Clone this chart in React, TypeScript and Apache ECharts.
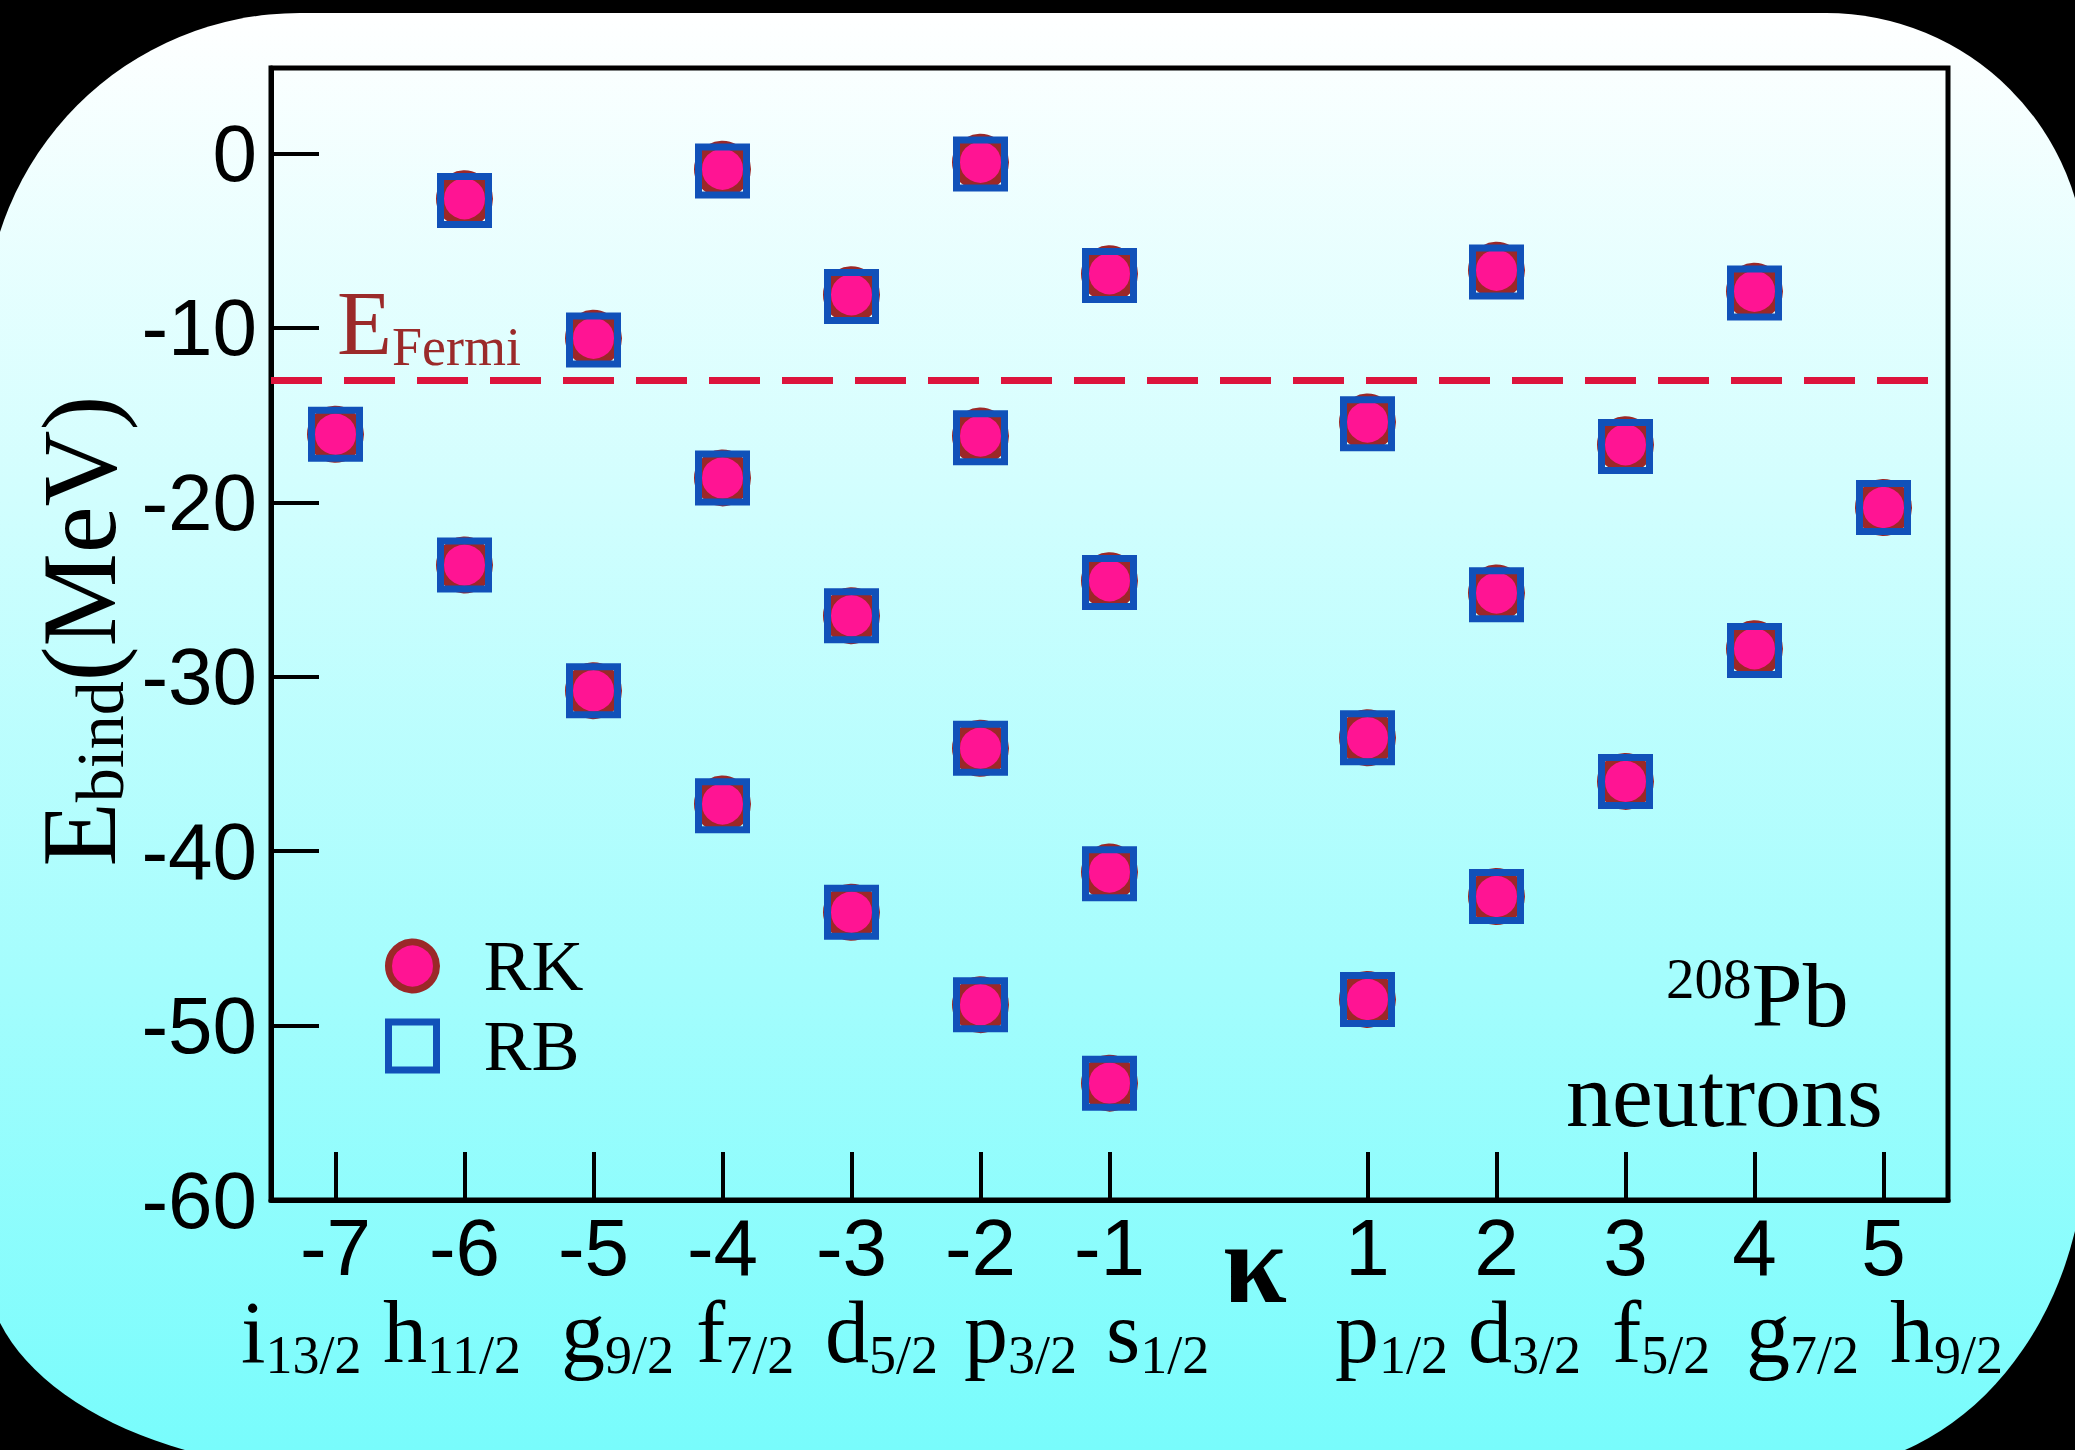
import React, { useEffect, useRef } from 'react';
import * as echarts from 'echarts';

// κ quantum numbers of the neutron single-particle states in 208Pb
const KAPPA = [-7, -6, -5, -4, -3, -2, -1, 1, 2, 3, 4, 5];
// spectroscopic notation written under each κ
const ORBITAL_L = ['i', 'h', 'g', 'f', 'd', 'p', 's', 'p', 'd', 'f', 'g', 'h'];
const ORBITAL_J = ['13/2', '11/2', '9/2', '7/2', '5/2', '3/2', '1/2', '1/2', '3/2', '5/2', '7/2', '9/2'];

// binding energies (MeV) of the bound levels for each κ, RK calculation
const RK_LEVELS: number[][] = [
  [-16.1],
  [-2.6, -23.6],
  [-10.6, -30.8],
  [-0.9, -18.6, -37.3],
  [-8.1, -26.5, -43.5],
  [-0.5, -16.2, -34.1, -48.8],
  [-6.9, -24.5, -41.2, -53.3],
  [-15.4, -33.5, -48.5],
  [-6.7, -25.2, -42.6],
  [-16.7, -36.0],
  [-7.9, -28.4],
  [-20.3],
];
// same levels, RB calculation
const RB_LEVELS: number[][] = [
  [-16.1],
  [-2.7, -23.6],
  [-10.7, -30.8],
  [-1.0, -18.6, -37.4],
  [-8.2, -26.5, -43.5],
  [-0.6, -16.3, -34.1, -48.8],
  [-7.0, -24.6, -41.3, -53.3],
  [-15.5, -33.5, -48.5],
  [-6.8, -25.3, -42.6],
  [-16.8, -36.0],
  [-8.0, -28.5],
  [-20.3],
];

const Y_TICKS = [-60, -50, -40, -30, -20, -10, 0];
const E_FERMI = -13.0;

// left edge of each orbital label in the row under the κ axis
const ORBITAL_LABEL_X = [241, 383, 561, 696, 825, 964, 1106, 1335, 1468, 1612, 1746, 1890];

const SANS = 'Liberation Sans, Arial, sans-serif';
const SERIF = 'Liberation Serif, Times New Roman, serif';

// rounded panel behind the plot: a rectangle with unequal (partly elliptical) corners
const PANEL_PATH =
  'M 300 13 L 1826 13 A 260 260 0 0 1 2086 273 L 2086 1138 A 275 332 0 0 1 1811 1470 ' +
  'L 335 1470 A 350 207 0 0 1 -15 1263 L -15 328 A 315 315 0 0 1 300 13 Z';

let panelRegistered = false;
function registerPanel() {
  if (panelRegistered) return;
  echarts.graphic.registerShape('roundPanel', echarts.graphic.extendPath(PANEL_PATH, {}));
  panelRegistered = true;
}

const toPoints = (kappa: number[], levels: number[][]) =>
  kappa.flatMap((k, i) => levels[i].map((e) => [k, e]));

export default function App() {
  const ref = useRef<HTMLDivElement>(null);

  useEffect(() => {
    if (!ref.current) return;
    registerPanel();
    const chart = echarts.init(ref.current, null, { renderer: 'svg' });

    const orbitalLabels = ORBITAL_L.map((l, i) => ({
      type: 'text',
      z: 20,
      x: ORBITAL_LABEL_X[i],
      y: 1332,
      style: {
        text: `{m|${l}}{s|${ORBITAL_J[i]}}`,
        align: 'left',
        verticalAlign: 'middle',
        fill: '#000',
        rich: {
          m: { fontFamily: SERIF, fontSize: 88, lineHeight: 100, fill: '#000' },
          s: { fontFamily: SERIF, fontSize: 54, lineHeight: 100, padding: [45, 0, 0, 0], fill: '#000' },
        },
      },
    }));

    const option: any = {
      animation: false,
      backgroundColor: '#000',
      grid: {
        left: 271,
        right: 127,
        top: 68,
        bottom: 250,
        show: true,
        borderColor: '#000',
        borderWidth: 5,
        backgroundColor: 'transparent',
      },
      xAxis: {
        type: 'value',
        min: -7.5,
        max: 5.5,
        axisLine: { onZero: false, lineStyle: { color: '#000', width: 5 } },
        axisTick: { inside: true, length: 48, customValues: KAPPA, lineStyle: { color: '#000', width: 4 } },
        axisLabel: { customValues: KAPPA, margin: 7, fontFamily: SANS, fontSize: 80, color: '#000' },
        splitLine: { show: false },
      },
      yAxis: {
        type: 'value',
        min: -60,
        max: 4.9,
        axisLine: { onZero: false, lineStyle: { color: '#000', width: 5 } },
        axisTick: { inside: true, length: 48, customValues: Y_TICKS, lineStyle: { color: '#000', width: 4 } },
        axisLabel: { customValues: Y_TICKS, margin: 14, fontFamily: SANS, fontSize: 80, color: '#000' },
        splitLine: { show: false },
      },
      legend: {
        orient: 'vertical',
        left: 385,
        top: 930,
        padding: 0,
        itemWidth: 48,
        itemHeight: 48,
        itemGap: 8,
        selectedMode: false,
        textStyle: { fontFamily: SERIF, fontSize: 72, color: '#000', lineHeight: 48, padding: [0, 0, 0, 42] },
        data: [
          { name: 'RK', icon: 'circle', itemStyle: { color: '#ff1493', borderColor: '#9b2828', borderWidth: 7 } },
          { name: 'RB', icon: 'rect', itemStyle: { color: 'rgba(0,0,0,0)', borderColor: '#1151b9', borderWidth: 7 } },
        ],
      },
      series: [
        {
          name: 'RK',
          type: 'scatter',
          symbol: 'circle',
          symbolSize: 49,
          data: toPoints(KAPPA, RK_LEVELS),
          itemStyle: { color: '#ff1493', borderColor: '#9b2828', borderWidth: 8, opacity: 1 },
          emphasis: { disabled: true },
          z: 3,
          markLine: {
            silent: true,
            symbol: ['none', 'none'],
            label: { show: false },
            lineStyle: { color: '#dc143c', width: 7, type: [51, 22], opacity: 1 },
            emphasis: { disabled: true },
            data: [{ yAxis: E_FERMI }],
          },
        },
        {
          name: 'RB',
          type: 'scatter',
          symbol: 'rect',
          symbolSize: 48,
          data: toPoints(KAPPA, RB_LEVELS),
          itemStyle: { color: 'rgba(0,0,0,0)', borderColor: '#1151b9', borderWidth: 7, opacity: 1 },
          emphasis: { disabled: true },
          z: 4,
        },
      ],
      graphic: {
        elements: [
          {
            type: 'roundPanel',
            z: -10,
            silent: true,
            x: 0,
            y: 0,
            style: {
              fill: new echarts.graphic.LinearGradient(0, 0, 0, 1, [
                { offset: 0, color: '#ffffff' },
                { offset: 1, color: '#76fcfc' },
              ]),
            },
          },
          {
            type: 'text',
            z: 20,
            x: 79,
            y: 631,
            rotation: Math.PI / 2,
            style: {
              text: '{m|E}{s|bind}{m|(MeV)}',
              align: 'center',
              verticalAlign: 'middle',
              fill: '#000',
              rich: {
                m: { fontFamily: SERIF, fontSize: 105, lineHeight: 130, fill: '#000' },
                s: { fontFamily: SERIF, fontSize: 68, lineHeight: 130, padding: [41, 0, 0, 0], fill: '#000' },
              },
            },
          },
          {
            type: 'text',
            z: 20,
            x: 337,
            y: 323,
            style: {
              text: '{m|E}{s|Fermi}',
              align: 'left',
              verticalAlign: 'middle',
              fill: '#9b2a2a',
              rich: {
                m: { fontFamily: SERIF, fontSize: 90, lineHeight: 100, fill: '#9b2a2a' },
                s: { fontFamily: SERIF, fontSize: 54, lineHeight: 100, padding: [47, 0, 0, 0], fill: '#9b2a2a' },
              },
            },
          },
          {
            type: 'text',
            z: 20,
            x: 1223,
            y: 1263,
            style: {
              text: 'κ',
              align: 'left',
              verticalAlign: 'middle',
              fontFamily: SERIF,
              fontWeight: 'bold',
              fontSize: 115,
              fill: '#000',
            },
          },
          {
            type: 'text',
            z: 20,
            x: 1666,
            y: 995,
            style: {
              text: '{sup|208}{m|Pb}',
              align: 'left',
              verticalAlign: 'middle',
              fill: '#000',
              rich: {
                m: { fontFamily: SERIF, fontSize: 92, lineHeight: 70, fill: '#000' },
                sup: { fontFamily: SERIF, fontSize: 57, lineHeight: 70, padding: [0, 0, 33, 0], fill: '#000' },
              },
            },
          },
          {
            type: 'text',
            z: 20,
            x: 1566,
            y: 1095,
            style: {
              text: 'neutrons',
              align: 'left',
              verticalAlign: 'middle',
              fontFamily: SERIF,
              fontSize: 92,
              lineHeight: 80,
              fill: '#000',
            },
          },
          ...orbitalLabels,
        ],
      },
    };

    chart.setOption(option);
    return () => chart.dispose();
  }, []);

  return (
    <div
      ref={ref}
      style={{ position: 'fixed', left: 0, top: 0, width: 2075, height: 1450 }}
    />
  );
}
